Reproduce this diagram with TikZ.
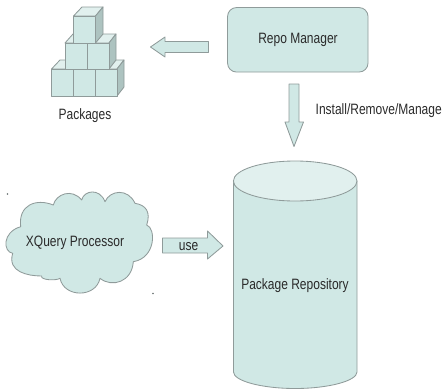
\documentclass[tikz,border=0pt]{standalone}
\usepackage{fontspec}
\setmainfont[FakeStretch=0.8]{Liberation Sans}
\definecolor{shapefill}{HTML}{D0E8E5}
\definecolor{shapelight}{HTML}{E1F0EE}
\definecolor{shapedark}{HTML}{ADC3C0}
\definecolor{shapeline}{HTML}{8F9B9A}
\definecolor{inktext}{HTML}{2A2A2A}
\tikzset{
  shapebox/.style={fill=shapefill,draw=shapeline,line width=0.85pt,line join=round},
  lightface/.style={shapebox,fill=shapelight},
  darkface/.style={shapebox,fill=shapedark},
  label/.style={text=inktext,font=\fontsize{15}{17}\selectfont,inner sep=0pt,anchor=center},
  speck/.style={fill=shapeline!70!black,draw=none,circle,inner sep=0pt,minimum size=1.6pt}
}
\begin{document}
\begin{tikzpicture}[x=1pt,y=-1pt]
\useasboundingbox (0,0) rectangle (444,388);
% repo manager
\node[shapebox,rounded corners=9pt,minimum width=140.5pt,minimum height=64.5pt,inner sep=0pt] (repo) at (297.8,39.8) {};
\node[label] (repotext) at (298,40) {Repo Manager};
% packages: bottom row
\draw[lightface] (51.5,69) -- (60,60) -- (124,60) -- (117,69) -- cycle;
\draw[darkface] (117,69) -- (124,60) -- (124,87) -- (117,96) -- cycle;
\draw[shapebox] (51.5,69) rectangle (73.5,96);
\draw[shapebox] (73.5,69) rectangle (95,96);
\draw[shapebox] (95,69) rectangle (117,96);
% middle row
\draw[lightface] (65,43) -- (73,34) -- (116,34) -- (109,43) -- cycle;
\draw[darkface] (109,43) -- (116,34) -- (116,60) -- (109,69) -- cycle;
\draw[shapebox] (65,43) rectangle (87,69);
\draw[shapebox] (87,43) rectangle (109,69);
% top cube
\draw[lightface] (73.5,16) -- (82,7) -- (103,7) -- (95.5,16) -- cycle;
\draw[darkface] (95.5,16) -- (103,7) -- (103,34) -- (95.5,43) -- cycle;
\draw[shapebox] (73.5,16) rectangle (95.5,43);
\node[label] (packages) at (85,116) {Packages};
% arrow to packages
\draw[shapebox] (150.5,47) -- (165,37) -- (165,41.5) -- (208.5,41.5) -- (208.5,52.5) -- (165,52.5) -- (165,57) -- cycle;
% arrow to repository
\draw[shapebox] (289,84) -- (299,84) -- (299,122) -- (303.5,122) -- (294,146.5) -- (285,122) -- (289,122) -- cycle;
\node[label,anchor=west] (install) at (315.5,111) {Install/Remove/Manage};
% cylinder
\draw[shapebox] (233.5,181) -- (233.5,372) .. controls (233.5,381) and (262,388.5) .. (295.2,388.5) .. controls (328,388.5) and (357,381) .. (357,372) -- (357,181) -- cycle;
\draw[lightface] (295.2,181) ellipse [x radius=61.8pt,y radius=20pt];
\node[label] (repository) at (295,286) {Package Repository};
% cloud
\draw[shapebox] (20.7,226.7)
  .. controls (2,232) and (3,252) .. (12.7,253.3)
  .. controls (7,272) and (28,276) .. (41.7,276)
  .. controls (40,280) and (56,281) .. (60,278.3)
  .. controls (64,298) and (96,298) .. (100,278.3)
  .. controls (112,288) and (132,282) .. (133.3,261.7)
  .. controls (156,258) and (156,228) .. (146.7,225)
  .. controls (151,212) and (146,205) .. (135,203.3)
  .. controls (128,188) and (110,190) .. (105,201.7)
  .. controls (100,188) and (84,190) .. (81.7,200)
  .. controls (72,188) and (56,194) .. (53.3,205)
  .. controls (36,198) and (18,205) .. (20.7,226.7) -- cycle;
\node[label] (xquery) at (75,243) {XQuery Processor};
% use arrow
\draw[shapebox] (162.5,238) -- (207.5,238) -- (207.5,231) -- (223,246) -- (207.5,259) -- (207.5,253) -- (162.5,253) -- cycle;
\node[label] (use) at (188.5,246.5) {use};
% stray specks
\node[speck] (speckA) at (7.5,194) {};
\node[speck] (speckB) at (153,293.5) {};
\end{tikzpicture}
\end{document}
